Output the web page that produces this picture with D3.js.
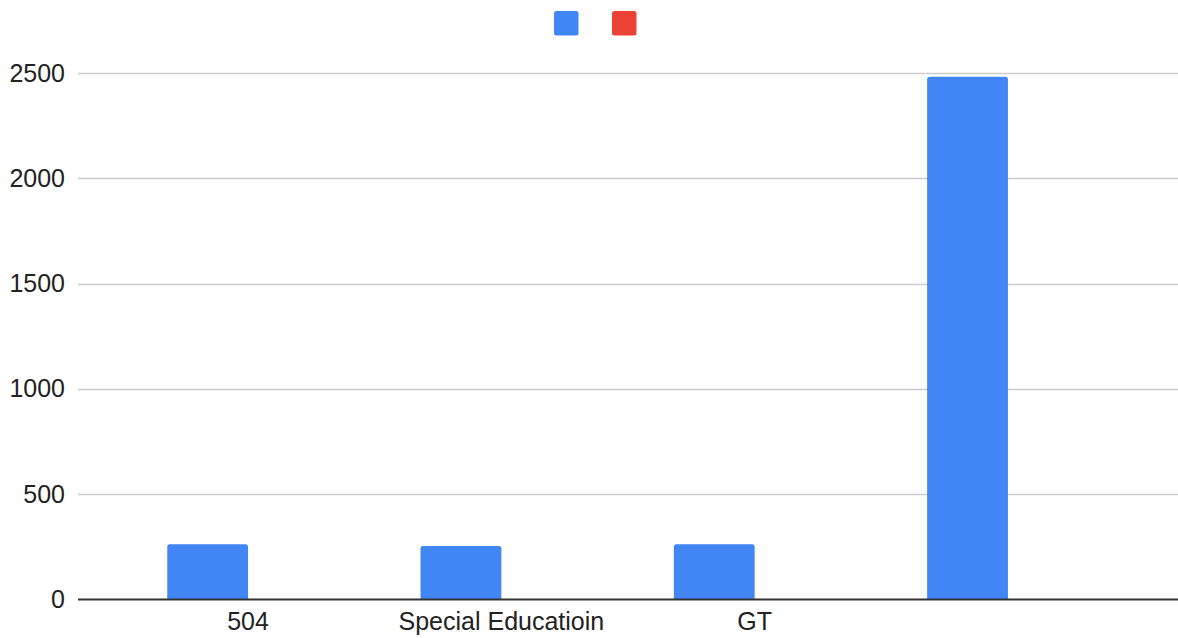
<!DOCTYPE html>
<html>
<head>
<meta charset="utf-8">
<script src="https://cdn.jsdelivr.net/npm/d3@7"></script>
<style>
  html, body { margin: 0; padding: 0; background: #fff; }
  svg { display: block; font-family: Arial, "Liberation Sans", sans-serif; }
</style>
</head>
<body>
<svg id="chart" width="1178" height="638"></svg>
<script>
// Categories along the x axis (the last one has no label)
const categories = ["504", "Special Educatioin", "GT", ""];
// Two series; the second has no values
const seriesNames = ["Series 1", "Series 2"];
const seriesColors = ["#4285F4", "#EA4335"];
const series1 = [262, 254, 262, 2482];
const series2 = [0, 0, 0, 0];
const yTicks = [0, 500, 1000, 1500, 2000, 2500];

const svg = d3.select("#chart");
const plot = { left: 78, right: 1178, top: 73, bottom: 599.5 };
const labelFont = "Arial, 'Liberation Sans', sans-serif";

const x = d3.scaleBand()
  .domain(categories.map((c, i) => i))
  .range([plot.left, plot.right])
  .paddingInner(0.362)
  .paddingOuter(0.3524);

const xInner = d3.scaleBand()
  .domain(seriesNames)
  .range([0, x.bandwidth()]);

const y = d3.scaleLinear()
  .domain([0, 2500])
  .range([plot.bottom, plot.top]);

// Horizontal gridlines
svg.append("g")
  .selectAll("line")
  .data(yTicks.filter(t => t !== 0))
  .join("line")
  .attr("x1", plot.left)
  .attr("x2", plot.right)
  .attr("y1", d => Math.round(y(d)) + 0.5)
  .attr("y2", d => Math.round(y(d)) + 0.5)
  .attr("stroke", "#cccccc")
  .attr("stroke-width", 1.3);

// Y axis labels
const yAxis = d3.axisLeft(y).tickValues(yTicks).tickFormat(d3.format("d")).tickSize(0).tickPadding(0);
const yg = svg.append("g")
  .attr("transform", `translate(65,0)`)
  .call(yAxis);
yg.select(".domain").remove();
yg.selectAll("text")
  .attr("font-size", 25)
  .attr("font-family", labelFont)
  .attr("fill", "#222");

// Bars with lightly rounded top corners
const allSeries = [series1, series2];
function barPath(x0, w, yTop, yBase, r) {
  const h = yBase - yTop;
  if (h <= 0) return "";
  r = Math.min(r, h, w / 2);
  return `M${x0},${yBase}V${yTop + r}Q${x0},${yTop} ${x0 + r},${yTop}` +
         `H${x0 + w - r}Q${x0 + w},${yTop} ${x0 + w},${yTop + r}V${yBase}Z`;
}

const groups = svg.append("g")
  .selectAll("g")
  .data(categories.map((c, i) => i))
  .join("g")
  .attr("transform", i => `translate(${x(i)},0)`);

groups.selectAll("path")
  .data(i => seriesNames.map((s, k) => ({ s, k, v: allSeries[k][i] })))
  .join("path")
  .attr("d", d => barPath(xInner(d.s), xInner.bandwidth(), y(d.v), y(0), 2.5))
  .attr("fill", d => seriesColors[d.k]);

// X baseline
svg.append("line")
  .attr("x1", plot.left)
  .attr("x2", plot.right)
  .attr("y1", y(0))
  .attr("y2", y(0))
  .attr("stroke", "#333")
  .attr("stroke-width", 2);

// X axis labels (centered on each group)
const xAxis = d3.axisBottom(x).tickFormat(i => categories[i]).tickSize(0).tickPadding(0);
const xg = svg.append("g")
  .attr("transform", `translate(0,${612})`)
  .call(xAxis);
xg.select(".domain").remove();
xg.selectAll("text")
  .attr("font-size", 25)
  .attr("font-family", labelFont)
  .attr("fill", "#222");

// Legend swatches
const legendX = d3.scalePoint().domain(seriesNames).range([554, 612]);
svg.append("g")
  .selectAll("rect")
  .data(seriesNames)
  .join("rect")
  .attr("x", d => legendX(d))
  .attr("y", 11)
  .attr("width", 24.5)
  .attr("height", 24.5)
  .attr("rx", 2.5)
  .attr("fill", (d, k) => seriesColors[k]);
</script>
</body>
</html>
